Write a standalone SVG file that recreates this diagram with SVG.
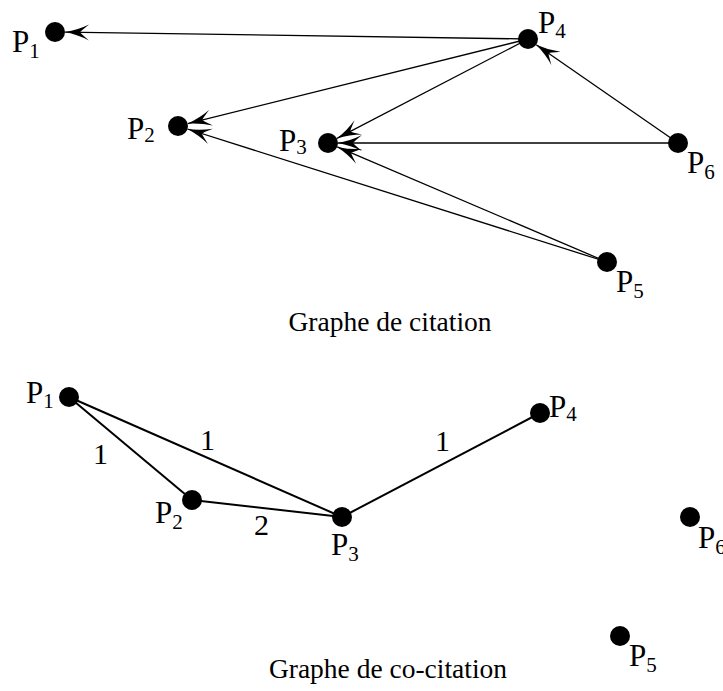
<svg xmlns="http://www.w3.org/2000/svg" width="723" height="691" viewBox="0 0 723 691">
  <style>
    text { font-family: 'Liberation Serif', 'Tinos', 'Times New Roman', 'DejaVu Serif', serif; fill: #000; }
    .node { fill: #000; }
    .lbl { font-size: 31px; }
    .sub { font-size: 21px; }
    .cap { font-size: 27.5px; text-anchor: middle; }
    .w { font-size: 30px; }
    .arc { stroke: #000; stroke-width: 1.3; fill: none; marker-end: url(#barb); }
    .edge { stroke: #000; stroke-width: 2; fill: none; }
  </style>
  <defs>
    <!-- swept-back barbed arrowhead, tip at the path end -->
    <marker id="barb" viewBox="-26 -9 28 18" refX="0" refY="0" markerWidth="28" markerHeight="18" markerUnits="userSpaceOnUse" orient="auto">
      <path d="M0,0 Q-13,-2.5 -24,-8 Q-16,-1.5 -15,0 Q-16,1.5 -24,8 Q-13,2.5 0,0 Z" fill="#000"/>
    </marker>
  </defs>
  <rect width="723" height="691" fill="#fff"/>

  <!-- citation graph: arcs -->
  <g id="citation-arcs">
    <line class="arc" x1="528" y1="39" x2="65" y2="32.1"/>
    <line class="arc" x1="528" y1="39" x2="187.7" y2="123.6"/>
    <line class="arc" x1="528" y1="39" x2="336.9" y2="138.4"/>
    <line class="arc" x1="678" y1="143" x2="536.2" y2="44.7"/>
    <line class="arc" x1="678" y1="143" x2="338" y2="143"/>
    <line class="arc" x1="607" y1="262" x2="337.2" y2="146.9"/>
    <line class="arc" x1="607" y1="262" x2="187.5" y2="129"/>
  </g>

  <!-- citation graph: papers -->
  <g id="c-p1"><circle class="node" cx="55" cy="32" r="10"/><text class="lbl" x="12" y="52">P<tspan class="sub" dy="6">1</tspan></text></g>
  <g id="c-p2"><circle class="node" cx="178" cy="126" r="10"/><text class="lbl" x="127" y="139">P<tspan class="sub" dy="3">2</tspan></text></g>
  <g id="c-p3"><circle class="node" cx="328" cy="143" r="10"/><text class="lbl" x="279" y="151">P<tspan class="sub" dy="3">3</tspan></text></g>
  <g id="c-p4"><circle class="node" cx="528" cy="39" r="10"/><text class="lbl" x="538" y="33">P<tspan class="sub" dy="5">4</tspan></text></g>
  <g id="c-p5"><circle class="node" cx="607" cy="262" r="10"/><text class="lbl" x="616" y="292">P<tspan class="sub" dy="6">5</tspan></text></g>
  <g id="c-p6"><circle class="node" cx="678" cy="143" r="10"/><text class="lbl" x="687" y="173">P<tspan class="sub" dy="6">6</tspan></text></g>

  <text class="cap" x="390" y="331">Graphe de citation</text>

  <!-- co-citation graph: weighted edges -->
  <g id="cocitation-edges">
    <line class="edge" x1="69" y1="397" x2="192" y2="500"/>
    <line class="edge" x1="69" y1="397" x2="342" y2="517"/>
    <line class="edge" x1="192" y1="500" x2="342" y2="517"/>
    <line class="edge" x1="342" y1="517" x2="540" y2="413"/>
    <text class="w" x="93" y="464">1</text>
    <text class="w" x="200" y="450">1</text>
    <text class="w" x="435" y="451">1</text>
    <text class="w" x="254" y="535">2</text>
  </g>

  <!-- co-citation graph: papers -->
  <g id="k-p1"><circle class="node" cx="69" cy="397" r="10"/><text class="lbl" x="26" y="403">P<tspan class="sub" dy="5">1</tspan></text></g>
  <g id="k-p2"><circle class="node" cx="192" cy="500" r="10"/><text class="lbl" x="155" y="523">P<tspan class="sub" dy="6">2</tspan></text></g>
  <g id="k-p3"><circle class="node" cx="342" cy="517" r="10"/><text class="lbl" x="331" y="555">P<tspan class="sub" dy="6">3</tspan></text></g>
  <g id="k-p4"><circle class="node" cx="540" cy="413" r="10"/><text class="lbl" x="549" y="417">P<tspan class="sub" dy="4">4</tspan></text></g>
  <g id="k-p5"><circle class="node" cx="620" cy="636" r="10"/><text class="lbl" x="629" y="666">P<tspan class="sub" dy="6">5</tspan></text></g>
  <g id="k-p6"><circle class="node" cx="690" cy="517" r="10"/><text class="lbl" x="698" y="548">P<tspan class="sub" dy="6">6</tspan></text></g>

  <text class="cap" x="388" y="678">Graphe de co-citation</text>
</svg>
